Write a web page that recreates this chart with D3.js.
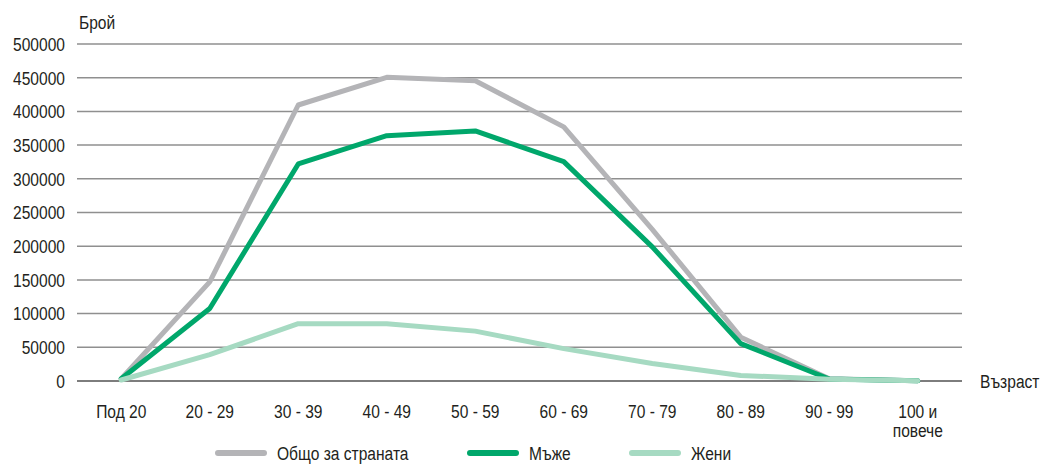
<!DOCTYPE html>
<html>
<head>
<meta charset="utf-8">
<script src="https://cdn.jsdelivr.net/npm/d3@7"></script>
<style>
  body { margin: 0; background: #fff; }
  text { font-family: "Liberation Sans", Arial, sans-serif; font-size: 19px; fill: #231f20; }
</style>
</head>
<body>
<div id="wrapper"></div>
<script>
const categories = ["Под 20", "20 - 29", "30 - 39", "40 - 49", "50 - 59", "60 - 69", "70 - 79", "80 - 89", "90 - 99", "100 и\nповече"];
const total = [3400, 147000, 409500, 450500, 445500, 377000, 225000, 65000, 3500, 300];
const men = [3400, 107500, 322000, 364000, 371000, 325500, 199000, 55500, 3000, 200];
const women = [1500, 39000, 85000, 85000, 74000, 48000, 26000, 8300, 2500, 300];
const yTicks = [0, 50000, 100000, 150000, 200000, 250000, 300000, 350000, 400000, 450000, 500000];
const seriesNames = ["Общо за страната", "Мъже", "Жени"];

// narrow look, like the condensed font in the original
const squeeze = 0.82;
function at(px, py) {
  return "translate(" + px + ", " + py + ") scale(" + squeeze + ", 1)";
}

function draw() {
  const dimensions = {
    width: 1044,
    height: 464,
    margin: { top: 44, right: 82, bottom: 83, left: 77 }
  };
  const innerWidth = dimensions.width - dimensions.margin.left - dimensions.margin.right;
  const innerHeight = dimensions.height - dimensions.margin.top - dimensions.margin.bottom;

  const svg = d3.select("#wrapper")
    .append("svg")
      .attr("width", dimensions.width)
      .attr("height", dimensions.height);

  const bounds = svg.append("g")
    .attr("transform", "translate(" + dimensions.margin.left + ", " + dimensions.margin.top + ")");

  // Scales
  const x = d3.scalePoint()
    .domain(categories)
    .range([0, innerWidth])
    .padding(0.5);
  const y = d3.scaleLinear()
    .domain([0, 500000])
    .range([innerHeight, 0]);

  // grid + y labels
  bounds.append("g")
    .selectAll("line")
    .data(yTicks)
    .join("line")
      .attr("x1", 0)
      .attr("x2", innerWidth)
      .attr("y1", d => y(d))
      .attr("y2", d => y(d))
      .attr("stroke", d => d === 0 ? "#7d7d7d" : "#8f8f8f")
      .attr("stroke-width", d => d === 0 ? 2 : 1.5);

  bounds.append("g")
    .selectAll("text")
    .data(yTicks)
    .join("text")
      .attr("transform", d => at(-12, y(d)))
      .attr("dy", "0.36em")
      .attr("text-anchor", "end")
      .text(d => d);

  // x labels
  const xLabels = bounds.append("g")
    .selectAll("text")
    .data(categories)
    .join("text")
      .attr("transform", d => at(x(d), innerHeight + 37))
      .attr("text-anchor", "middle");
  xLabels.each(function(d) {
    const parts = d.split("\n");
    d3.select(this).selectAll("tspan")
      .data(parts)
      .join("tspan")
        .attr("x", 0)
        .attr("dy", (p, i) => i === 0 ? 0 : 19)
        .text(p => p);
  });

  // axis titles
  bounds.append("text")
    .attr("transform", at(2, -15))
    .text("Брой");
  bounds.append("text")
    .attr("transform", at(innerWidth + 18, innerHeight))
    .attr("dy", "0.36em")
    .text("Възраст");

  // lines
  const line = d3.line()
    .x((d, i) => x(categories[i]))
    .y(d => y(d));

  const series = [
    { name: seriesNames[0], values: total, color: "#b4b4b7" },
    { name: seriesNames[1], values: men, color: "#00a76b" },
    { name: seriesNames[2], values: women, color: "#a6dac2" }
  ];

  bounds.append("g")
    .selectAll("path")
    .data(series)
    .join("path")
      .attr("d", d => line(d.values))
      .attr("fill", "none")
      .attr("stroke", d => d.color)
      .attr("stroke-width", 5)
      .attr("stroke-linejoin", "round")
      .attr("stroke-linecap", "round");

  // legend
  const legendX = [216, 468, 630];
  const legend = svg.append("g")
    .selectAll("g")
    .data(series)
    .join("g")
      .attr("transform", (d, i) => "translate(" + legendX[i] + ", 453)");
  legend.append("line")
    .attr("x1", 2)
    .attr("x2", 48)
    .attr("stroke", d => d.color)
    .attr("stroke-width", 6)
    .attr("stroke-linecap", "round");
  legend.append("text")
    .attr("transform", at(61, 0))
    .attr("dy", "0.36em")
    .text(d => d.name);
}
draw();
</script>
</body>
</html>
